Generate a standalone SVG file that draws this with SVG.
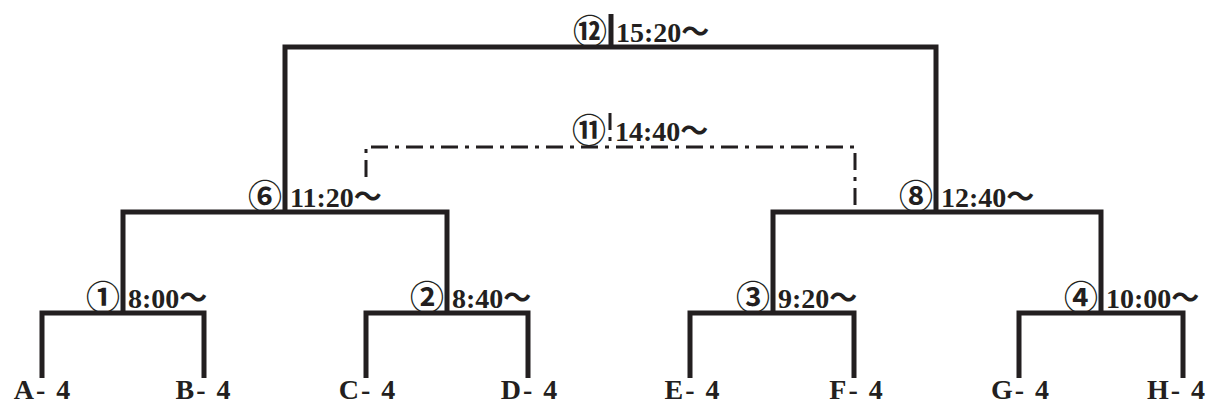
<svg xmlns="http://www.w3.org/2000/svg" width="1210" height="408" viewBox="0 0 1210 408">
<style>
.b{fill:none;stroke:#231f20;stroke-width:5;stroke-linecap:butt;stroke-linejoin:miter}
.d{fill:none;stroke:#231f20;stroke-width:3;stroke-dasharray:17 7 4 7}
.t{font-family:"Liberation Serif","Noto Sans CJK JP",serif;font-weight:bold;font-size:28px;fill:#231f20}
.c{font-family:"Noto Sans CJK JP","DejaVu Serif",sans-serif;font-weight:bold;font-size:34px;fill:#231f20;text-anchor:end}
.m{text-anchor:middle;letter-spacing:2px}
</style>
<g id="connectors">
<path class="b" d="M42,378V313H204V378"/>
<path class="b" d="M366,378V313H528V378"/>
<path class="b" d="M690,378V313H854V378"/>
<path class="b" d="M1019,378V313H1183V378"/>
<path class="b" d="M123,313V212H447V313"/>
<path class="b" d="M773,313V212H1101V313"/>
<path class="b" d="M285,212V47H936V212"/>
<path class="b" d="M611,14V47"/>
<path class="d" d="M366,177V147H855V210"/>
<path class="d" d="M610,113V147" stroke-dasharray="6 3"/>
</g>
<g id="m1"><text class="c" x="120" y="310">①</text><text class="t" x="128" y="308">8:00～</text></g>
<g id="m2"><text class="c" x="444" y="310">②</text><text class="t" x="452" y="308">8:40～</text></g>
<g id="m3"><text class="c" x="770" y="310">③</text><text class="t" x="778" y="308">9:20～</text></g>
<g id="m4"><text class="c" x="1098" y="310">④</text><text class="t" x="1106" y="308">10:00～</text></g>
<g id="m6"><text class="c" x="282" y="209">⑥</text><text class="t" x="290" y="207">11:20～</text></g>
<g id="m8"><text class="c" x="933" y="209">⑧</text><text class="t" x="941" y="207">12:40～</text></g>
<g id="m11"><text class="c" x="606" y="143">⑪</text><text class="t" x="615" y="141">14:40～</text></g>
<g id="m12"><text class="c" x="607" y="44">⑫</text><text class="t" x="616" y="42">15:20～</text></g>
<g id="teams">
<text class="t m" x="43" y="399">A- 4</text>
<text class="t m" x="204" y="399">B- 4</text>
<text class="t m" x="368" y="399">C- 4</text>
<text class="t m" x="530" y="399">D- 4</text>
<text class="t m" x="693" y="399">E- 4</text>
<text class="t m" x="857" y="399">F- 4</text>
<text class="t m" x="1021" y="399">G- 4</text>
<text class="t m" x="1177" y="399">H- 4</text>
</g>
</svg>
